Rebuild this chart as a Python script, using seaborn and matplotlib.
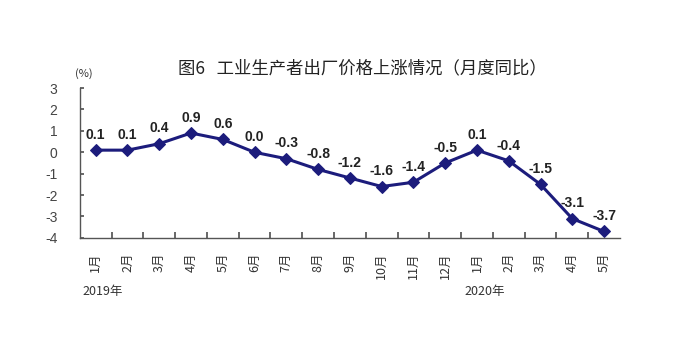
import numpy as np
import pandas as pd
import matplotlib
matplotlib.use('Agg')
import matplotlib.pyplot as plt
import seaborn as sns

months = ['1月', '2月', '3月', '4月', '5月', '6月', '7月', '8月', '9月', '10月', '11月', '12月',
          '1月', '2月', '3月', '4月', '5月']
ppi_yoy = [0.1, 0.1, 0.4, 0.9, 0.6, 0.0, -0.3, -0.8, -1.2, -1.6, -1.4, -0.5,
           0.1, -0.4, -1.5, -3.1, -3.7]
years = ['2019年', '2020年']
title = '图6   工业生产者出厂价格上涨情况（月度同比）'

sns.set_theme(style='white')
plt.rcParams['font.family'] = ['Noto Sans CJK SC', 'DejaVu Sans']
plt.rcParams['axes.unicode_minus'] = False

df = pd.DataFrame({'pos': np.arange(len(ppi_yoy)) + 0.5, 'val': ppi_yoy})

fig = plt.figure(figsize=(6.82, 3.61), dpi=100)
ax = fig.add_axes([0.117, 0.341, 0.792, 0.415])

line_color = '#1c1c7c'
sns.lineplot(data=df, x='pos', y='val', ax=ax, color=line_color, linewidth=2.2,
             marker='D', markersize=6, markeredgecolor=line_color)

for x, v in zip(df['pos'], df['val']):
    ax.annotate(f'{v:.1f}', (x, v), xytext=(0, 6), textcoords='offset points',
                ha='center', va='bottom', fontsize=10, fontweight='bold',
                color='#222222', family='Liberation Sans')

ax.set_xlim(0, len(ppi_yoy))
ax.set_ylim(-4, 3)
ax.set_yticks(range(-4, 4))
ax.set_yticklabels([str(t) for t in range(-4, 4)], fontsize=10, color='#444444',
                   family='Liberation Sans')
ax.set_xticks(np.arange(1, len(ppi_yoy)))
ax.set_xticklabels([])
ax.tick_params(axis='x', direction='in', length=4, color='#555555', bottom=True)
ax.tick_params(axis='y', direction='in', length=3, color='#555555', left=True, pad=16)

for x, m in zip(df['pos'], months):
    ax.text(x, -4.7, m, rotation=90, ha='center', va='top', fontsize=9,
            color='#333333')

ax.text(0.1, -6.5, years[0], ha='left', va='center', fontsize=9, color='#333333')
ax.text(12.1, -6.5, years[1], ha='left', va='center', fontsize=9, color='#333333')

ax.set_xlabel('')
ax.set_ylabel('')
for s in ['top', 'right']:
    ax.spines[s].set_visible(False)
for s in ['left', 'bottom']:
    ax.spines[s].set_color('#555555')
    ax.spines[s].set_linewidth(1.0)

fig.text(0.123, 0.795, '(%)', ha='center', va='center', fontsize=8, color='#333333')
fig.text(0.532, 0.81, title, ha='center', va='center', fontsize=12.5, color='#222222')

fig.savefig('out.png', dpi=100, facecolor='white')
